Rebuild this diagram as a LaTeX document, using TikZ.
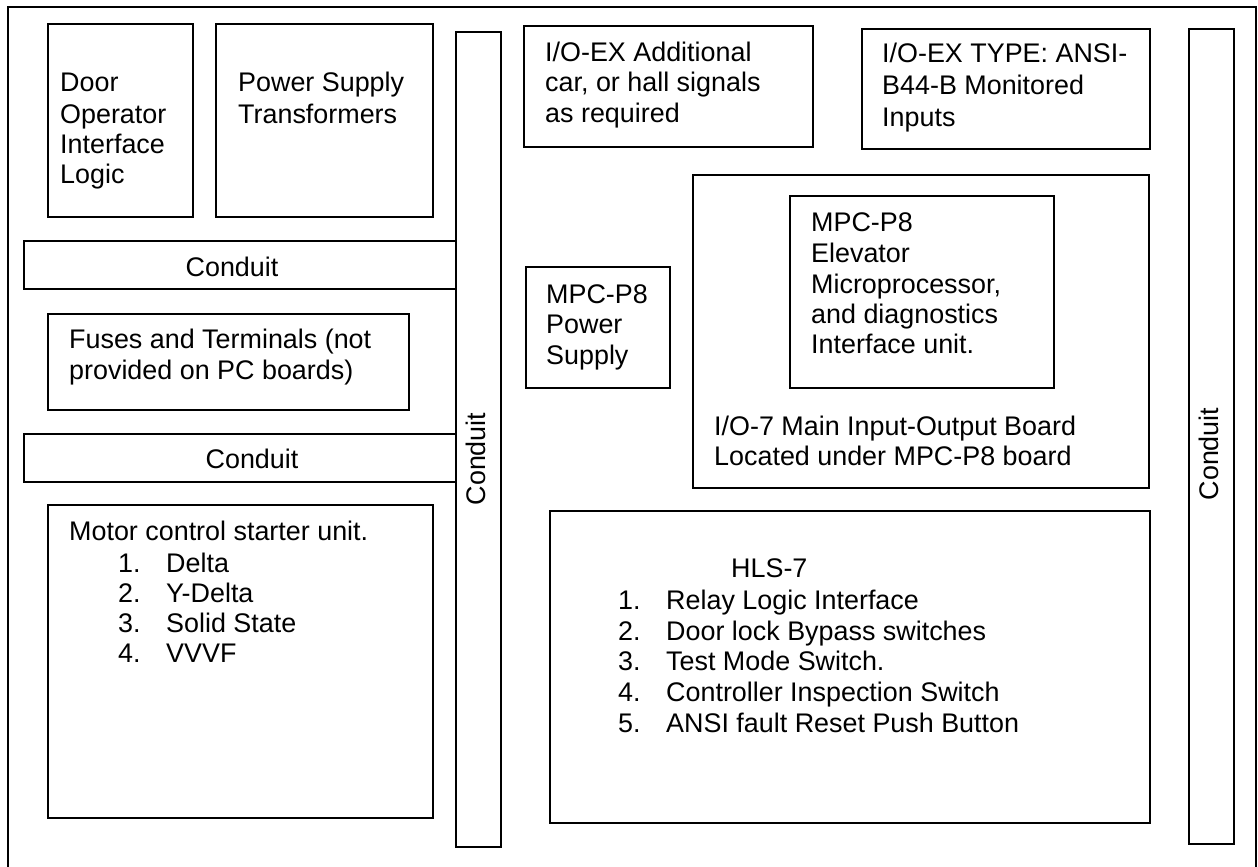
\documentclass[tikz,border=0pt]{standalone}
\usepackage{fontspec}
\setmainfont{Liberation Sans}
\begin{document}
\begin{tikzpicture}[x=1pt,y=-1pt,
  box/.style={draw=black,line width=1.5pt},
  frame/.style={draw=black,line width=2pt},
  lbl/.style={anchor=base west,inner sep=0pt,font=\fontsize{26.9}{30}\selectfont},
  clbl/.style={anchor=base,inner sep=0pt,font=\fontsize{26.9}{30}\selectfont},
  vlbl/.style={anchor=center,inner sep=0pt,rotate=90,font=\fontsize{26.9}{30}\selectfont}]
\useasboundingbox (0,0) rectangle (1258,867);
\fill[white] (0,0) rectangle (1258,867);
% outer frame (open at bottom)
\draw[frame] (8,867) -- (8,7) -- (1256,7) -- (1256,867);

% left column boxes
\draw[box] (48,24) rectangle (193,217);
\node[lbl] (door1) at (60,92) {Door};
\node[lbl] (door2) at (60,123) {Operator};
\node[lbl] (door3) at (60,153) {Interface};
\node[lbl] (door4) at (60,183) {Logic};

\draw[box] (216,24) rectangle (433,217);
\node[lbl] (ps1) at (238,92) {Power Supply};
\node[lbl] (ps2) at (238,123) {Transformers};

% horizontal conduits
\draw[box] (24,241) rectangle (456,289);
\node[clbl] (cond1) at (232,276) {Conduit};
\draw[box] (24,434) rectangle (456,482);
\node[clbl] (cond2) at (252,468) {Conduit};

\draw[box] (48,314) rectangle (409,410);
\node[lbl] (fuse1) at (69,348) {Fuses and Terminals (not};
\node[lbl] (fuse2) at (69,379) {provided on PC boards)};

\draw[box] (48,505) rectangle (433,818);
\node[lbl] (mot0) at (69,540) {Motor control starter unit.};
\node[lbl] (motn1) at (118,572) {1.};
\node[lbl] (mott1) at (166,572) {Delta};
\node[lbl] (motn2) at (118,602) {2.};
\node[lbl] (mott2) at (166,602) {Y-Delta};
\node[lbl] (motn3) at (118,632) {3.};
\node[lbl] (mott3) at (166,632) {Solid State};
\node[lbl] (motn4) at (118,662) {4.};
\node[lbl] (mott4) at (166,662) {VVVF};

% central vertical conduit
\draw[box,fill=white] (456,32) rectangle (501,847);
\node[vlbl] (cond3) at (476,459) {Conduit};

% right column
\draw[box] (524,26) rectangle (813,147);
\node[lbl] (ioa1) at (545,62) {I/O-EX Additional};
\node[lbl] (ioa2) at (545,92) {car, or hall signals};
\node[lbl] (ioa3) at (545,122) {as required};

\draw[box] (862,29) rectangle (1150,149);
\node[lbl] (iot1) at (882,63) {I/O-EX TYPE: ANSI-};
\node[lbl] (iot2) at (882,95) {B44-B Monitored};
\node[lbl] (iot3) at (882,126) {Inputs};

\draw[box] (693,175) rectangle (1149,488);
\node[lbl] (io71) at (714,435) {I/O-7 Main Input-Output Board};
\node[lbl] (io72) at (714,465) {Located under MPC-P8 board};

\draw[box] (790,196) rectangle (1054,388);
\node[lbl] (mpc1) at (811,231) {MPC-P8};
\node[lbl] (mpc2) at (811,262) {Elevator};
\node[lbl] (mpc3) at (811,293) {Microprocessor,};
\node[lbl] (mpc4) at (811,323) {and diagnostics};
\node[lbl] (mpc5) at (811,353) {Interface unit.};

\draw[box] (526,267) rectangle (670,388);
\node[lbl] (mps1) at (546,303) {MPC-P8};
\node[lbl] (mps2) at (546,333) {Power};
\node[lbl] (mps3) at (546,364) {Supply};

\draw[box] (550,511) rectangle (1150,823);
\node[lbl] (hls0) at (731,577) {HLS-7};
\node[lbl] (hlsn1) at (618,609) {1.};
\node[lbl] (hlst1) at (666,609) {Relay Logic Interface};
\node[lbl] (hlsn2) at (618,640) {2.};
\node[lbl] (hlst2) at (666,640) {Door lock Bypass switches};
\node[lbl] (hlsn3) at (618,670) {3.};
\node[lbl] (hlst3) at (666,670) {Test Mode Switch.};
\node[lbl] (hlsn4) at (618,701) {4.};
\node[lbl] (hlst4) at (666,701) {Controller Inspection Switch};
\node[lbl] (hlsn5) at (618,732) {5.};
\node[lbl] (hlst5) at (666,732) {ANSI fault Reset Push Button};

% right vertical conduit
\draw[box] (1189,29) rectangle (1234,844);
\node[vlbl] (cond4) at (1209,454) {Conduit};
\end{tikzpicture}
\end{document}
